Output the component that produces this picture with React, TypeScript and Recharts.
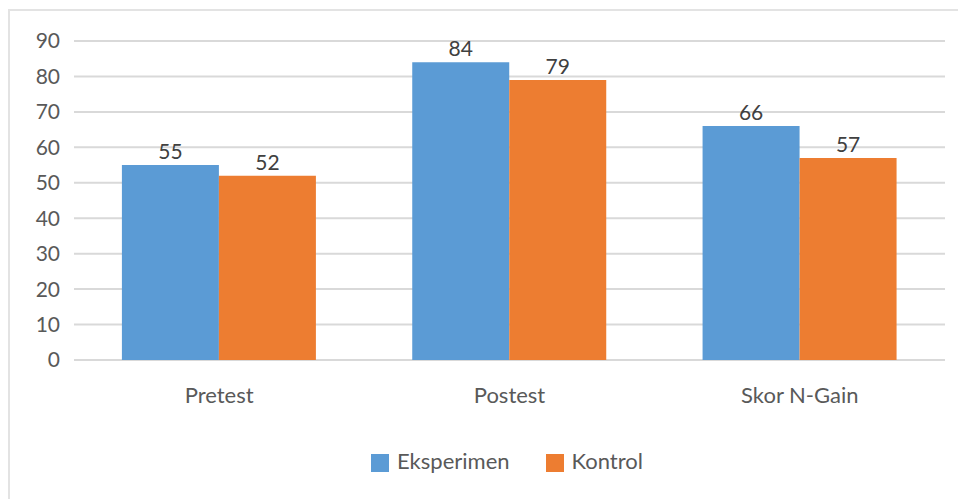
import React from "react";
import { BarChart, Bar, XAxis, YAxis, CartesianGrid, Legend, LabelList } from "recharts";

const categories = ["Pretest", "Postest", "Skor N-Gain"];
const eksperimen = [55, 84, 66];
const kontrol = [52, 79, 57];
const yTicks = [0, 10, 20, 30, 40, 50, 60, 70, 80, 90];

const data = categories.map((name, i) => ({ name, Eksperimen: eksperimen[i], Kontrol: kontrol[i] }));

const font = "Lato, 'Open Sans', sans-serif";
const textColor = "#595959";

export default function App() {
  return (
    <div style={{ position: "absolute", left: 0, top: 0, width: 958, height: 499, overflow: "hidden", background: "#fff", fontFamily: font }}>
      <div
        style={{
          position: "absolute",
          left: 8,
          top: 9,
          width: 980,
          height: 520,
          border: "2px solid #e3e3e3",
        }}
      />
      <BarChart
        width={958}
        height={499}
        data={data}
        margin={{ top: 41, right: 13, bottom: 62, left: 0 }}
        barCategoryGap="16.5%"
        barGap={0}
      >
        <CartesianGrid vertical={false} stroke="#d9d9d9" strokeWidth={2} />
        <XAxis
          dataKey="name"
          axisLine={false}
          tickLine={false}
          tickMargin={21}
          height={50}
          tick={{ fontSize: 22, fill: textColor, fontFamily: font }}
        />
        <YAxis
          domain={[0, 90]}
          ticks={yTicks}
          axisLine={false}
          tickLine={false}
          tickMargin={8}
          width={74}
          tick={{ fontSize: 21, fill: textColor, fontFamily: font }}
        />
        <Legend
          verticalAlign="bottom"
          iconType="square"
          iconSize={18}
          wrapperStyle={{ bottom: 25, left: 371, width: "auto", fontSize: 22, fontFamily: font, color: textColor }}
          formatter={(v: string) => <span style={{ color: textColor, marginRight: 26, marginLeft: 4 }}>{v}</span>}
        />
        <Bar dataKey="Eksperimen" fill="#5B9BD5" isAnimationActive={false}>
          <LabelList dataKey="Eksperimen" position="top" offset={6} style={{ fontSize: 21, fill: "#404040", fontFamily: font }} />
        </Bar>
        <Bar dataKey="Kontrol" fill="#ED7D31" isAnimationActive={false}>
          <LabelList dataKey="Kontrol" position="top" offset={6} style={{ fontSize: 21, fill: "#404040", fontFamily: font }} />
        </Bar>
      </BarChart>
    </div>
  );
}
